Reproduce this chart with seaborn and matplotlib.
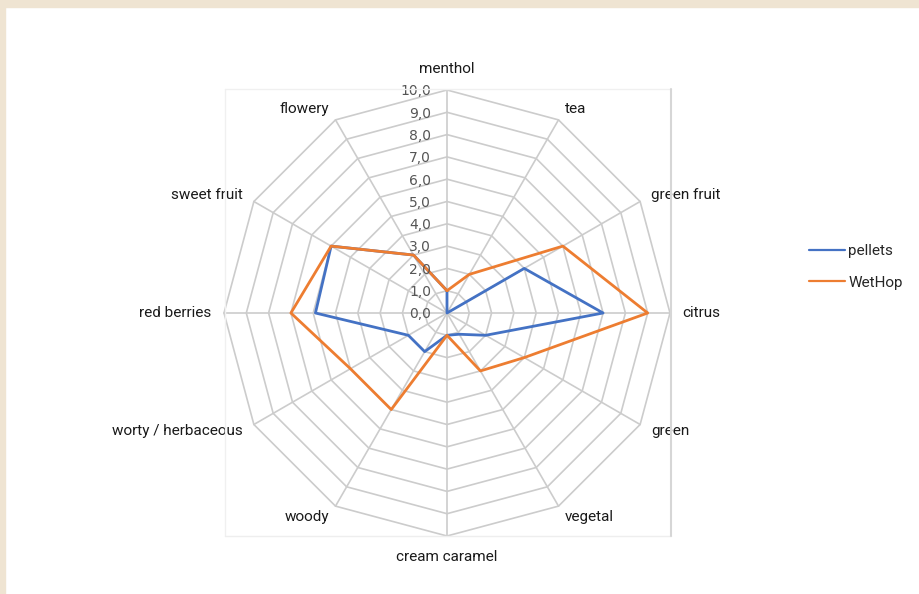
import numpy as np
import pandas as pd
import seaborn as sns
import matplotlib.pyplot as plt
from matplotlib.lines import Line2D
from matplotlib.patches import Rectangle

# Aroma attributes, clockwise from the top
categories = ["menthol", "tea", "green fruit", "citrus", "green", "vegetal",
              "cream caramel", "woody", "worty / herbaceous", "red berries",
              "sweet fruit", "flowery"]
pellets = [1.0, 0.0, 4.0, 7.0, 2.0, 1.1, 1.0, 2.0, 2.0, 5.9, 6.0, 3.0]
wethop = [1.0, 2.0, 6.0, 9.0, 4.0, 3.0, 1.0, 5.0, 5.0, 7.0, 6.0, 3.0]
series_names = ["pellets", "WetHop"]
series_colors = ["#4472C4", "#ED7D31"]
r_ticks = [0, 1, 2, 3, 4, 5, 6, 7, 8, 9, 10]

LABEL_FONT = ["Liberation Sans Narrow", "Roboto", "DejaVu Sans"]


def build_frame():
    """Long-form table with the polygon closed back to the first axis."""
    n = len(categories)
    theta = np.linspace(0, 2 * np.pi, n + 1)
    rows = []
    for name, vals in zip(series_names, [pellets, wethop]):
        closed = list(vals) + [vals[0]]
        for t, v in zip(theta, closed):
            rows.append({"theta": t, "value": v, "series": name})
    return pd.DataFrame(rows), theta


def draw_grid(ax, theta):
    """Excel style polygon grid and spokes."""
    grid_kw = dict(color="#cccccc", lw=1.2, zorder=1, clip_on=False)
    for level in r_ticks[1:]:
        ax.plot(theta, [level] * len(theta), **grid_kw)
    for t in theta[:-1]:
        ax.plot([t, t], [0, r_ticks[-1]], **grid_kw)


def main():
    df, theta = build_frame()

    sns.set_style("white")
    fig = plt.figure(figsize=(9.2, 5.94), dpi=100, facecolor="white")

    # beige frame strips and faint plot-area box
    fig.patches.append(Rectangle((0, 1 - 7 / 594), 1, 7 / 594, transform=fig.transFigure,
                                 color="#EFE4D2", zorder=0))
    fig.patches.append(Rectangle((0, 0), 5 / 920, 1, transform=fig.transFigure,
                                 color="#EFE4D2", zorder=0))
    box_l, box_r, box_b, box_t = 225 / 920, 671 / 920, 58 / 594, 505 / 594
    for xs, ys, c in [([box_l, box_r], [box_t, box_t], "#f0f0f0"),
                      ([box_l, box_l], [box_b, box_t], "#f0f0f0"),
                      ([box_l, box_r], [box_b, box_b], "#eeeeee"),
                      ([box_r, box_r], [box_b, box_t], "#d6d6d6")]:
        fig.add_artist(Line2D(xs, ys, transform=fig.transFigure, color=c,
                              lw=1.5 if c == "#d6d6d6" else 1.0))

    ax = fig.add_axes([224 / 920, 58 / 594, 446 / 920, 446 / 594], projection="polar")
    ax.set_theta_zero_location("N")
    ax.set_theta_direction(-1)
    ax.set_ylim(0, 10)
    ax.grid(False)
    ax.spines["polar"].set_visible(False)
    ax.set_xticks([])
    ax.set_yticks([])
    ax.patch.set_alpha(0)

    draw_grid(ax, theta)

    sns.lineplot(data=df, x="theta", y="value", hue="series", hue_order=series_names,
                 palette=series_colors, sort=False, estimator=None, lw=2,
                 ax=ax, zorder=3)
    ax.set_xlabel("")
    ax.set_ylabel("")

    # radial value labels along the top spoke
    for v in r_ticks:
        ax.annotate(f"{v:.1f}".replace(".", ","), xy=(0, v), xytext=(-11.5, -1),
                    textcoords="offset points", ha="right", va="center",
                    fontsize=10, color="#555555", fontfamily="DejaVu Sans",
                    annotation_clip=False)

    # category labels just outside the outer polygon
    for t, name in zip(theta[:-1], categories):
        s, c = np.sin(t), np.cos(t)
        if s > 0.1:
            ha = "left"
        elif s < -0.1:
            ha = "right"
        else:
            ha = "center"
        dx, dy = 9 * s, 9 * c
        if abs(s) < 0.1:
            dy = 10 * np.sign(c)
        va = "center"
        if abs(s) < 0.1:
            va = "bottom" if c > 0 else "top"
        ax.annotate(name, xy=(t, 10), xytext=(dx, dy), textcoords="offset points",
                    ha=ha, va=va, fontsize=11, color="#1a1a1a",
                    family=LABEL_FONT, annotation_clip=False)

    handles, labels = ax.get_legend_handles_labels()
    if ax.get_legend() is not None:
        ax.get_legend().remove()
    leg = fig.legend(handles, labels, loc="center left", bbox_to_anchor=(801 / 920, 1 - 267 / 594),
                     frameon=False, handlelength=2.4, handletextpad=0.2, labelspacing=1.15,
                     borderpad=0, prop={"family": LABEL_FONT, "size": 11})
    for line in leg.get_lines():
        line.set_linewidth(1.6)

    fig.savefig("out.png", dpi=100, facecolor="white")


if __name__ == "__main__":
    main()
